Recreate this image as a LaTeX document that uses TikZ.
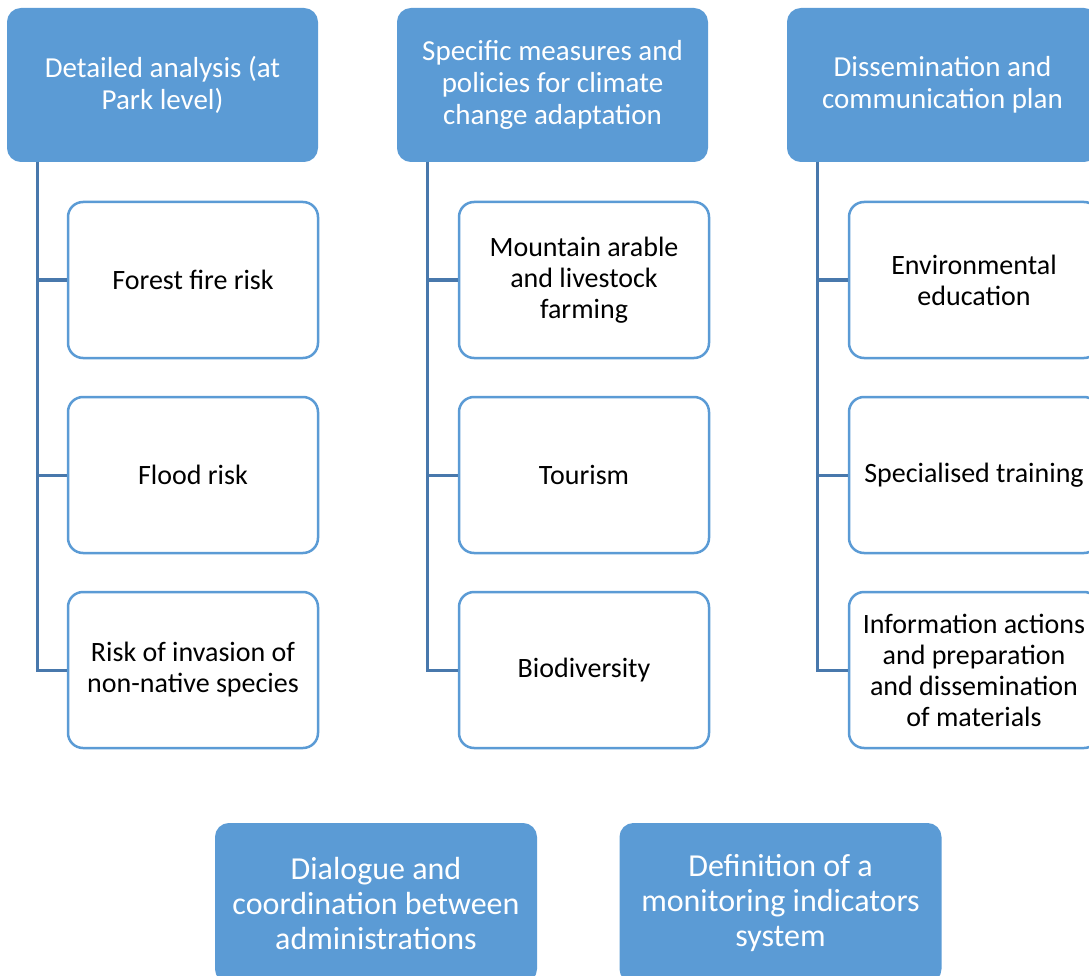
\documentclass[tikz,border=0pt]{standalone}
\usepackage{fontspec}
\setmainfont{Carlito}
\usepackage{tikz}

\definecolor{boxblue}{RGB}{91,155,213}
\definecolor{lineblue}{RGB}{72,120,172}

\begin{document}
\begin{tikzpicture}[x=1pt,y=-1pt]
        \useasboundingbox (0,0) rectangle (1089,976);

        \begin{scope}[every node/.style={fill=boxblue, draw=boxblue, line width=2pt,
                      rounded corners=13pt, minimum width=309pt, minimum height=152pt,
                      inner sep=0pt, align=center, text=white,
                      font=\fontsize{29}{32}\selectfont}]
            \node (dal) at (162.5,85) {Detailed analysis (at\\Park level)};
            \node (smp) at (552.5,85) {Specific measures and\\policies for climate\\change adaptation};
            \node (dcp) at (942.5,85) {Dissemination and\\communication plan};
        \end{scope}

        \begin{scope}[every node/.style={fill=white, draw=boxblue, line width=2.5pt,
                      rounded corners=15pt, minimum width=250pt, minimum height=156pt,
                      inner sep=0pt, align=center, text=black,
                      font=\fontsize{28}{31}\selectfont}]
            \node (ffr) at (193,280) {Forest fire risk};
            \node (flr) at (193,475) {Flood risk};
            \node (inv) at (193,670) {Risk of invasion of\\non-native species};

            \node (mal) at (584,280) {Mountain arable\\and livestock\\farming};
            \node (tou) at (584,475) {Tourism};
            \node (bio) at (584,670) {Biodiversity};

            \node (env) at (974,280) {Environmental\\education};
            \node (spt) at (974,475) {Specialised training};
            \node (inf) at (974,670) {Information actions\\and preparation\\and dissemination\\of materials};
        \end{scope}

        \begin{scope}[every node/.style={fill=boxblue, draw=boxblue, line width=2pt,
                      rounded corners=13pt, minimum width=320pt, minimum height=158pt,
                      inner sep=0pt, align=center, text=white,
                      font=\fontsize{32}{35}\selectfont}]
            \node (dia) at (376,903) {Dialogue and\\coordination between\\administrations};
            \node (mon) at (780.5,903) {Definition of a\\monitoring indicators\\system};
        \end{scope}

        \begin{scope}[every path/.style={draw=lineblue, line width=3pt}]
            \foreach \top/\kid in {dal/ffr, dal/flr, dal/inv,
                                   smp/mal, smp/tou, smp/bio,
                                   dcp/env, dcp/spt, dcp/inf}
                \draw ([xshift=30pt]\top.south west) |- (\kid.west);
        \end{scope}
    \end{tikzpicture}
\end{document}
